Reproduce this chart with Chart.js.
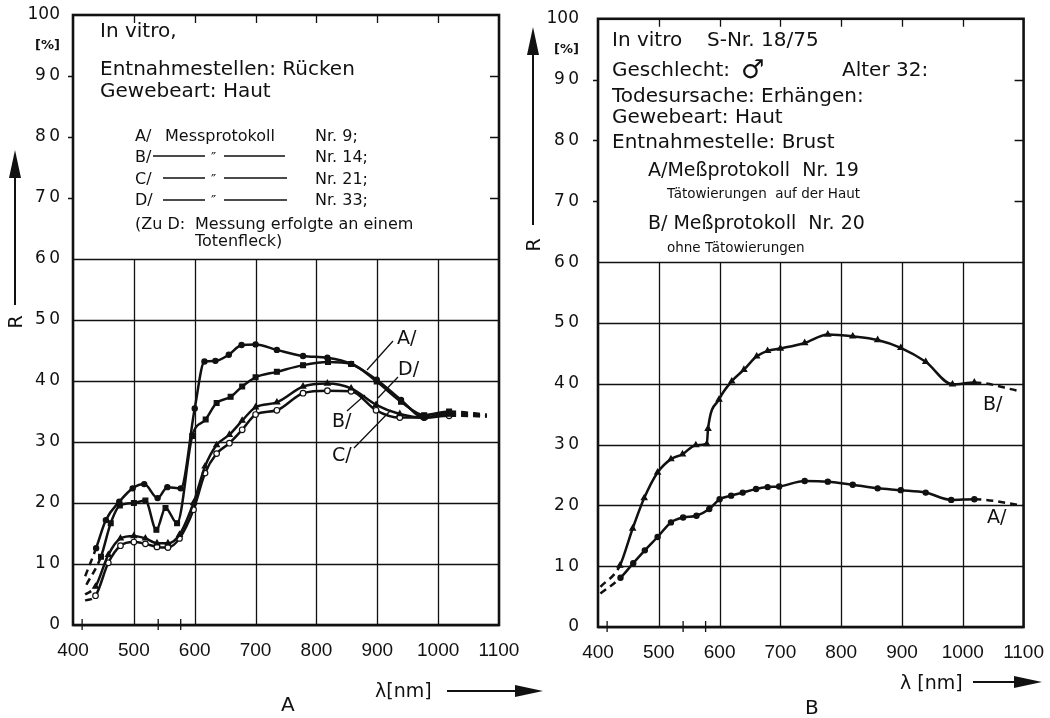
<!DOCTYPE html>
<html>
<head>
<meta charset="utf-8">
<script src="https://cdn.jsdelivr.net/npm/chart.js@4.4.1/dist/chart.umd.min.js"></script>
<style>
  body { margin: 0; background: #fff; }
  #wrap { position: relative; width: 1050px; height: 718px; }
  canvas { position: absolute; top: 0; }
  #left { left: 0; }
  #right { left: 525px; }
</style>
</head>
<body>
<div id="wrap">
  <canvas id="left" width="560" height="718"></canvas>
  <canvas id="right" width="525" height="718"></canvas>
</div>
<script>
// Bild A: Kurven A/ B/ C/ D/
const lamA1 = [420, 438, 454, 476, 498, 517, 539, 555, 577, 600, 616, 634, 656, 677, 700, 735, 778, 818, 857, 899, 939, 977, 1018, 1080];
const valA1 = [8.0, 12.6, 17.2, 20.2, 22.4, 23.1, 20.8, 22.6, 22.4, 35.5, 43.2, 43.3, 44.3, 45.9, 46.0, 45.1, 44.1, 43.8, 42.8, 40.2, 36.9, 34.0, 34.8, 34.3];
const lamB1 = [420, 437, 458, 478, 500, 519, 538, 556, 575, 598, 617, 636, 657, 678, 700, 735, 778, 818, 857, 898, 937, 977, 1018, 1080];
const valB1 = [5.0, 6.3, 11.5, 14.2, 14.6, 14.2, 13.4, 13.4, 14.8, 20.0, 26.0, 29.5, 31.2, 33.5, 35.7, 36.5, 39.1, 39.6, 38.8, 36.1, 34.6, 34.0, 34.5, 34.2];
const lamC1 = [420, 437, 458, 478, 500, 519, 538, 556, 575, 598, 617, 636, 657, 678, 700, 735, 778, 818, 857, 898, 937, 977, 1018, 1080];
const valC1 = [4.0, 4.8, 10.2, 13.0, 13.6, 13.3, 12.8, 12.7, 14.2, 18.9, 24.9, 28.1, 29.8, 32.0, 34.5, 35.2, 38.0, 38.4, 38.3, 35.2, 34.0, 34.0, 34.3, 34.2];
const lamD1 = [422, 446, 462, 477, 500, 519, 537, 552, 571, 596, 618, 636, 659, 678, 700, 735, 778, 819, 857, 899, 939, 977, 1018, 1080];
const valD1 = [6.6, 11.2, 16.7, 19.6, 20.0, 20.4, 15.6, 19.2, 16.7, 31.0, 33.7, 36.4, 37.4, 39.1, 40.6, 41.5, 42.6, 43.1, 42.8, 39.9, 36.6, 34.4, 35.0, 34.5];

// Bild B: Kurven A/ (Tätowierung) und B/ (ohne)
const lamA2 = [404, 437, 458, 477, 498, 520, 540, 562, 583, 600, 619, 638, 660, 679, 698, 740, 778, 819, 860, 898, 939, 981, 1019, 1098];
const valA2 = [5.5, 8.1, 10.5, 12.6, 14.8, 17.2, 18.0, 18.3, 19.4, 21.0, 21.6, 22.1, 22.7, 23.0, 23.1, 24.0, 23.9, 23.4, 22.8, 22.5, 22.1, 20.9, 21.0, 20.0];
const lamB2 = [404, 436, 457, 476, 498, 520, 539, 561, 579, 581, 599, 620, 640, 661, 679, 700, 740, 778, 819, 860, 898, 939, 983, 1019, 1093];
const valB2 = [6.6, 10.1, 16.2, 21.2, 25.4, 27.6, 28.4, 29.9, 30.1, 32.6, 37.4, 40.4, 42.3, 44.5, 45.4, 45.8, 46.7, 48.1, 47.8, 47.2, 45.9, 43.6, 39.9, 40.2, 38.8];

const xTicks = [400, 500, 600, 700, 800, 900, 1000, 1100];
const yTicks = [0, 10, 20, 30, 40, 50, 60, 70, 80, 90, 100];
const hbMarks = [415, 540, 577];   // kleine Marken an der x-Achse

const ink = '#111';
const txtFont = "'DejaVu Sans', sans-serif";
const narrowFont = "'Liberation Sans Narrow', 'Liberation Sans', sans-serif";

function mkSet(lams, vals, style, fill, r) {
  const n = lams.length;
  return {
    data: lams.map((l, i) => ({ x: l, y: vals[i] })),
    showLine: true,
    borderColor: ink,
    borderWidth: 2.5,
    pointStyle: style,
    pointRadius: c => (c.dataIndex === 0 || c.dataIndex === n - 1) ? 0 : r,
    pointBackgroundColor: fill,
    pointBorderColor: ink,
    pointBorderWidth: 1.2,
    cubicInterpolationMode: 'monotone',
    segment: {
      borderDash: c => (c.p0DataIndex === 0 || c.p1DataIndex === n - 1) ? [7, 5] : undefined
    }
  };
}

function arrow(ctx, x1, y1, x2, y2) {
  const ang = Math.atan2(y2 - y1, x2 - x1), hl = 28, hw = 6;
  ctx.lineWidth = 2;
  ctx.beginPath();
  ctx.moveTo(x1, y1);
  ctx.lineTo(x2 - Math.cos(ang) * hl * 0.8, y2 - Math.sin(ang) * hl * 0.8);
  ctx.stroke();
  ctx.beginPath();
  ctx.moveTo(x2, y2);
  ctx.lineTo(x2 - Math.cos(ang) * hl - Math.sin(ang) * hw, y2 - Math.sin(ang) * hl + Math.cos(ang) * hw);
  ctx.lineTo(x2 - Math.cos(ang) * hl + Math.sin(ang) * hw, y2 - Math.sin(ang) * hl - Math.cos(ang) * hw);
  ctx.closePath();
  ctx.fill();
}

const paper = {
  id: 'paper',
  beforeDatasetsDraw(chart) {
    const { ctx, chartArea: a, scales: { x, y } } = chart;
    const y60 = y.getPixelForValue(60);
    ctx.save();
    ctx.strokeStyle = ink;
    ctx.lineWidth = 1.3;
    ctx.beginPath();
    xTicks.slice(1, -1).forEach(v => {
      const px = Math.round(x.getPixelForValue(v)) + 0.5;
      ctx.moveTo(px, a.bottom); ctx.lineTo(px, y60);
      ctx.moveTo(px, a.top); ctx.lineTo(px, a.top + 8);
    });
    yTicks.forEach(v => {
      const py = Math.round(y.getPixelForValue(v)) + 0.5;
      if (v <= 60) { ctx.moveTo(a.left, py); ctx.lineTo(a.right, py); }
      else if (v < 100) {
        ctx.moveTo(a.right - 9, py); ctx.lineTo(a.right, py);
        ctx.moveTo(a.left - 5, py); ctx.lineTo(a.left, py);
      }
    });
    hbMarks.forEach(v => {
      const px = x.getPixelForValue(v);
      ctx.moveTo(px, a.bottom - 6); ctx.lineTo(px, a.bottom + 5);
    });
    ctx.stroke();
    ctx.restore();
  },
  afterDraw(chart, args, opts) {
    const { ctx, chartArea: a } = chart;
    ctx.save();
    ctx.strokeStyle = ink;
    ctx.fillStyle = ink;
    ctx.lineWidth = 2.6;
    ctx.strokeRect(a.left, a.top, a.right - a.left, a.bottom - a.top);
    ctx.textBaseline = 'alphabetic';
    ctx.textAlign = 'left';
    (opts.notes || []).forEach(([t, x, y, size, rot]) => {
      ctx.font = size + 'px ' + txtFont;
      if (rot) {
        ctx.save(); ctx.translate(x, y); ctx.rotate(rot);
        ctx.textAlign = 'center'; ctx.fillText(t, 0, 0);
        ctx.restore();
      } else {
        ctx.fillText(t, x, y);
      }
    });
    ctx.lineWidth = 1.3;
    ctx.beginPath();
    (opts.lines || []).forEach(([x1, y1, x2, y2]) => { ctx.moveTo(x1, y1); ctx.lineTo(x2, y2); });
    ctx.stroke();
    (opts.arrows || []).forEach(([x1, y1, x2, y2]) => arrow(ctx, x1, y1, x2, y2));
    ctx.restore();
  }
};

function mkScales(bottomSpace, labelPad) {
  return {
    x: {
      type: 'linear', min: 400, max: 1100,
      afterBuildTicks: s => { s.ticks = xTicks.map(v => ({ value: v })); },
      afterFit: s => { s.height = bottomSpace; },
      ticks: {
        autoSkip: false, maxRotation: 0, padding: 6, color: ink,
        font: { family: narrowFont, size: 19 },
        callback: v => String(v)
      },
      grid: { display: false },
      border: { display: false }
    },
    y: {
      type: 'linear', min: 0, max: 100,
      afterBuildTicks: s => { s.ticks = yTicks.map(v => ({ value: v })).concat([{ value: 95 }]); },
      afterFit: s => { s.width = 73; },
      ticks: {
        autoSkip: false, padding: labelPad, color: ink,
        font: c => (c.tick && c.tick.value === 95) ? { family: txtFont, size: 13, weight: 'bold' } : { family: txtFont, size: 17 },
        callback: v => v === 95 ? '[%]' : (v === 100 ? '100' : String(v).split('').join('\u2009'))
      },
      grid: { display: false },
      border: { display: false }
    }
  };
}

const common = (top, right, bottomSpace, labelPad, notes) => ({
  responsive: false,
  animation: false,
  events: [],
  layout: { padding: { top: top, right: right, bottom: 0, left: 0 } },
  scales: mkScales(bottomSpace, labelPad),
  plugins: { legend: { display: false }, tooltip: { enabled: false }, paper: notes }
});

new Chart(document.getElementById('left'), {
  type: 'scatter',
  plugins: [paper],
  data: {
    datasets: [
      mkSet(lamA1, valA1, 'circle', ink, 2.6),
      mkSet(lamB1, valB1, 'triangle', ink, 3.2),
      mkSet(lamC1, valC1, 'circle', '#fff', 2.8),
      mkSet(lamD1, valD1, 'rect', ink, 3.4)
    ]
  },
  options: common(15, 61, 93, 5, {
    notes: [
      ['In vitro,', 100, 37, 20],
      ['Entnahmestellen: Rücken', 100, 75, 20],
      ['Gewebeart: Haut', 100, 97, 20],
      ['A/', 135, 141, 16], ['Messprotokoll', 165, 141, 16], ['Nr. 9;', 315, 141, 16],
      ['B/', 135, 162, 16], ['\u2033', 211, 162, 14], ['Nr. 14;', 315, 162, 16],
      ['C/', 135, 184, 16], ['\u2033', 211, 184, 14], ['Nr. 21;', 315, 184, 16],
      ['D/', 135, 205, 16], ['\u2033', 211, 205, 14], ['Nr. 33;', 315, 205, 16],
      ['(Zu D:', 135, 229, 16], ['Messung erfolgte an einem', 195, 229, 16],
      ['Totenfleck)', 195, 246, 16],
      ['A/', 397, 344, 19], ['D/', 398, 375, 19], ['B/', 332, 427, 19], ['C/', 332, 461, 19],
      ['λ[nm]', 375, 697, 19],
      ['A', 281, 711, 20],
      ['R', 22, 322, 19, -Math.PI / 2]
    ],
    lines: [
      [153, 156, 205, 156], [224, 156, 285, 156],
      [163, 178, 205, 178], [224, 178, 287, 178],
      [163, 200, 205, 200], [224, 200, 287, 200],
      [393, 341, 367, 370], [398, 377, 378, 398], [347, 411, 365, 395], [354, 448, 391, 410]
    ],
    arrows: [[447, 691, 543, 691], [15, 305, 15, 150]]
  })
});

new Chart(document.getElementById('right'), {
  type: 'scatter',
  plugins: [paper],
  data: {
    datasets: [
      mkSet(lamA2, valA2, 'circle', ink, 2.6),
      mkSet(lamB2, valB2, 'triangle', ink, 3.2)
    ]
  },
  options: common(17, 26, 91, 11, {
    notes: [
      ['In vitro', 87, 46, 20], ['S-Nr. 18/75', 182, 46, 20],
      ['Geschlecht:', 87, 76, 20], ['\u2642', 216, 78, 26], ['Alter 32:', 317, 76, 20],
      ['Todesursache: Erhängen:', 87, 102, 20],
      ['Gewebeart: Haut', 87, 123, 20],
      ['Entnahmestelle: Brust', 87, 148, 20],
      ['A/Meßprotokoll  Nr. 19', 123, 176, 19],
      ['Tätowierungen  auf der Haut', 142, 198, 13.5],
      ['B/ Meßprotokoll  Nr. 20', 123, 229, 19],
      ['ohne Tätowierungen', 142, 252, 13.5],
      ['B/', 458, 410, 19], ['A/', 462, 523, 19],
      ['λ [nm]', 375, 689, 19],
      ['B', 280, 714, 20],
      ['R', 15, 245, 19, -Math.PI / 2]
    ],
    lines: [],
    arrows: [[448, 682, 517, 682], [8, 225, 8, 27]]
  })
});
</script>
</body>
</html>
